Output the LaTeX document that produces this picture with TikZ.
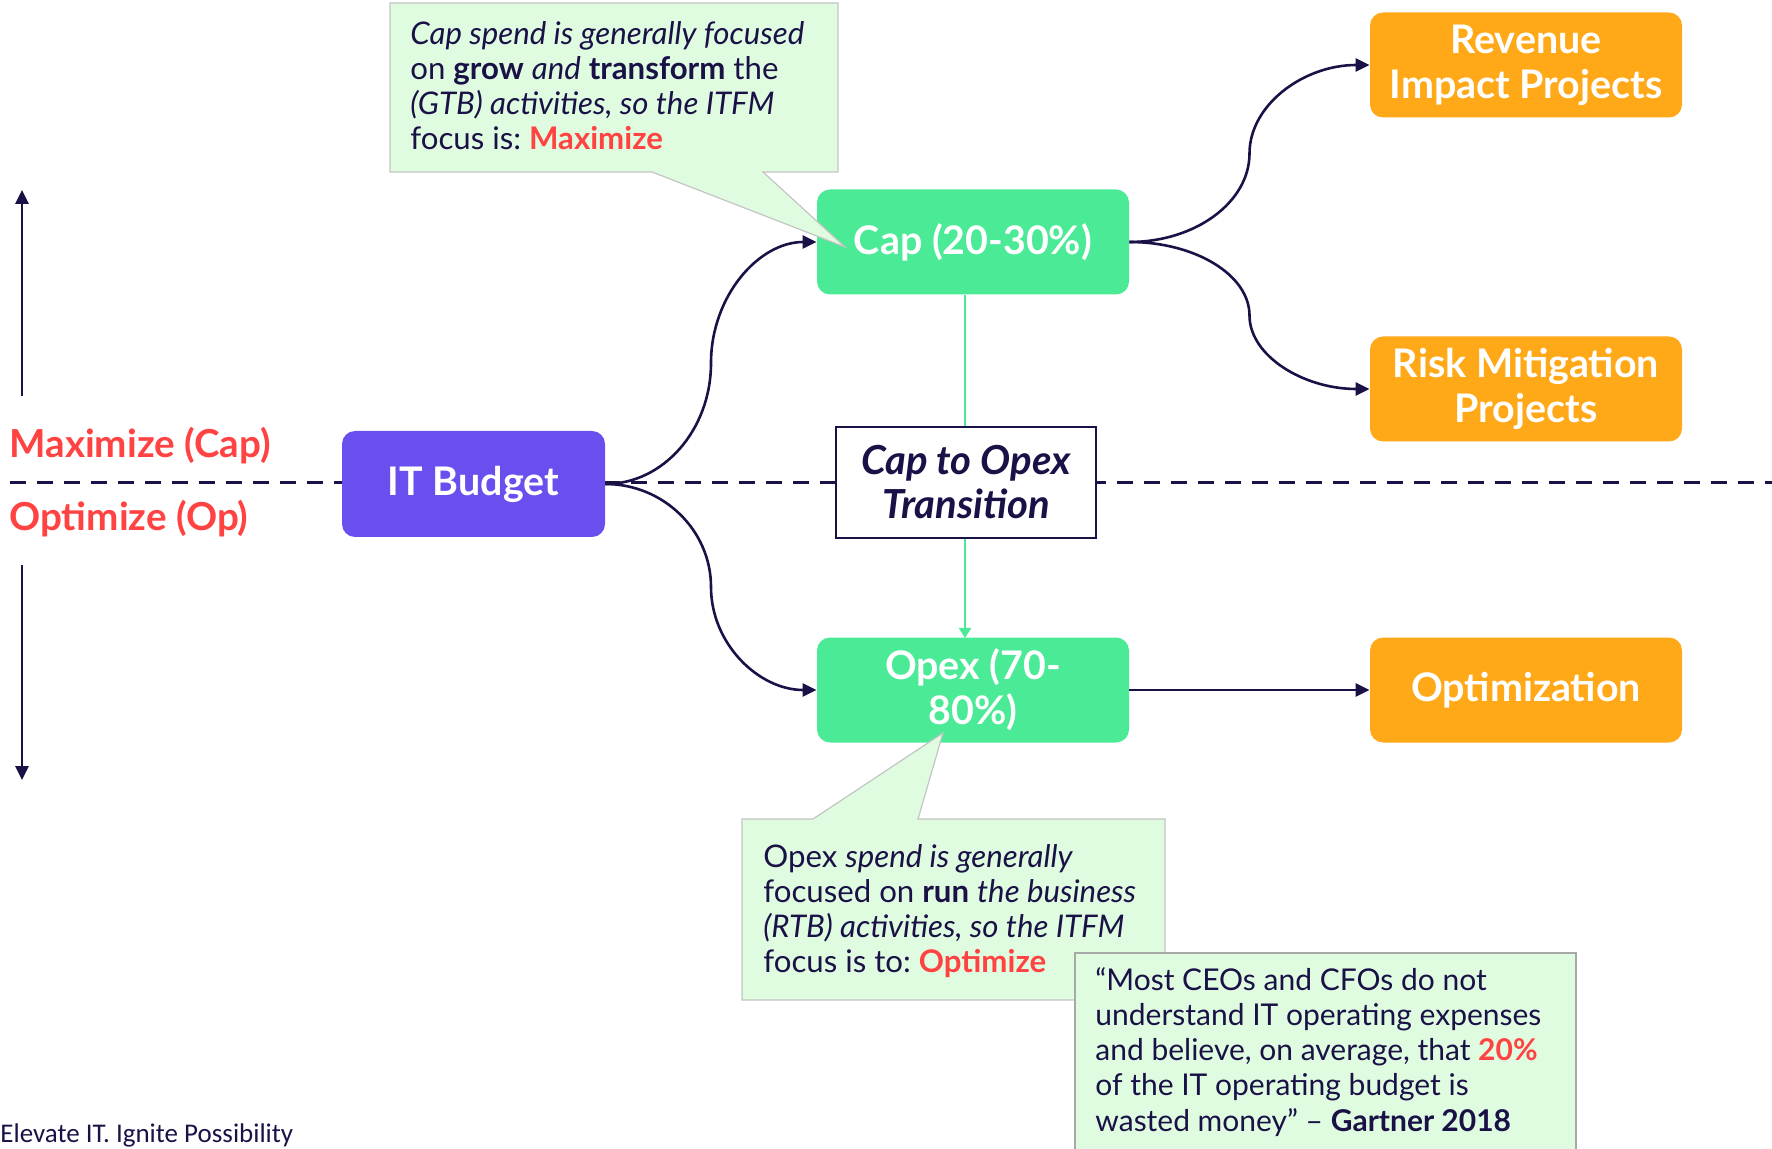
\documentclass[tikz,border=0pt]{standalone}
\usepackage{fontspec}
\setmainfont{Lato}
\newfontfamily\footfont{Carlito}
\usetikzlibrary{arrows.meta,calc}
\definecolor{navy}{HTML}{1A1147}
\definecolor{capgreen}{HTML}{4AEA96}
\definecolor{projorange}{HTML}{FFA818}
\definecolor{budgetpurple}{HTML}{6B4FEE}
\definecolor{accentred}{HTML}{FF4242}
\definecolor{notefill}{HTML}{E0FCE0}
\definecolor{noteline}{HTML}{C4C4C4}
\definecolor{quoteline}{HTML}{A8A8A8}
\frenchspacing
\begin{document}
\begin{tikzpicture}[x=0.5pt,y=-0.5pt,
  box/.style={rounded corners=6.5pt, minimum width=156pt, minimum height=52.5pt,
    inner sep=0pt, align=center, text=white,
    font=\fontsize{19.7}{22.5}\selectfont\bfseries},
  greenbox/.style={box, fill=capgreen},
  orangebox/.style={box, fill=projorange},
  purplebox/.style={box, fill=budgetpurple, minimum width=131.5pt, minimum height=53pt},
  transbox/.style={draw=navy, line width=0.8pt, fill=white, minimum width=130pt,
    minimum height=55.5pt, inner sep=0pt, align=center, text=navy,
    font=\fontsize{20}{22}\selectfont\bfseries\itshape},
  arr/.style={draw=navy, line width=1.3pt, -{Triangle[length=7pt,width=6.5pt]}},
  elbow/.style={to path={let \p1=(\tikztostart), \p2=(\tikztotarget) in
    .. controls ({\x1+0.275*(\x2-\x1)},\y1) and ({(\x1+\x2)/2},{(\y1+\y2)/2+0.275*(\y1-\y2)})
    .. ({(\x1+\x2)/2},{(\y1+\y2)/2})
    .. controls ({(\x1+\x2)/2},{(\y1+\y2)/2+0.275*(\y2-\y1)}) and ({\x2-0.275*(\x2-\x1)},\y2)
    .. (\tikztotarget) \tikztonodes}},
  dashline/.style={draw=navy, line width=1.5pt, dash pattern=on 8pt off 5.5pt},
  axisarrow/.style={draw=navy, line width=1.3pt, -{Triangle[length=7pt,width=6.5pt]}},
  sidelabel/.style={anchor=west, inner sep=0pt, text=accentred,
    font=\fontsize{19.3}{22}\selectfont\bfseries},
  notebox/.style={fill=notefill, draw=noteline, line width=0.6pt},
  quotebox/.style={fill=notefill, draw=quoteline, line width=0.9pt},
  notetext/.style={anchor=north west, inner sep=0pt, align=left, text=navy,
    font=\fontsize{15.6}{17.6}\selectfont},
  quotetext/.style={notetext, font=\fontsize{15}{17.6}\selectfont},
]
\useasboundingbox (0,0) rectangle (1772,1149);

% dashed divider
\coordinate (dl) at (10,483);
\coordinate (dr) at (1772,483);
\draw[dashline] (dl) -- (dr);

% vertical axis arrows
\coordinate (upA) at (22,396);
\coordinate (upB) at (22,190);
\coordinate (dnA) at (22,565);
\coordinate (dnB) at (22,780);
\draw[axisarrow] (upA) -- (upB);
\draw[axisarrow] (dnA) -- (dnB);

\node[sidelabel] (maxl) at (9,446) {Maximize (Cap)};
\node[sidelabel] (optl) at (9,519) {Optimize (Op)};

% nodes
\node[purplebox] (itb) at (473.5,484) {IT Budget};
\node[greenbox] (cap) at (973,242) {Cap (20-30\%)};
\node[greenbox] (opex) at (973,690) {Opex (70-\\80\%)};
\node[orangebox] (rev) at (1526,65) {Revenue\\Impact Projects};
\node[orangebox] (risk) at (1526,389) {Risk Mitigation\\Projects};
\node[orangebox] (optim) at (1526,690) {Optimization};

% green transition line
\coordinate (gtop) at (965,295);
\coordinate (gbot) at (965,638);
\draw[draw=capgreen, line width=1pt, -{Triangle[length=5pt,width=6pt]}] (gtop) -- (gbot);
\node[transbox] (trans) at (966,482.5) {Cap to Opex\\Transition};

% connectors
\draw[arr] (itb.east) to[elbow] (cap.west);
\draw[arr] (itb.east) to[elbow] (opex.west);
\draw[arr] (cap.east) to[elbow] (rev.west);
\draw[arr] (cap.east) to[elbow] (risk.west);
\draw[arr] (opex.east) -- (optim.west);

% callout 1
\path[notebox] (390,3) -- (838,3) -- (838,172) -- (763,172) -- (845,247) -- (652,172) -- (390,172) -- cycle;
\node[notetext] (note1) at (410,21) {\textit{Cap spend is generally focused}\\
on \textbf{grow} \textit{and} \textbf{transform} the\\
\textit{(GTB) activities, so the ITFM}\\
focus is: \textcolor{accentred}{\textbf{Maximize}}};

% callout 2
\path[notebox] (742,819) -- (813,819) -- (943,733) -- (918,819) -- (1165,819) -- (1165,1000) -- (742,1000) -- cycle;
\node[notetext] (note2) at (763,844) {Opex \textit{spend is generally}\\
focused on \textbf{run} \textit{the business}\\
\textit{(RTB) activities, so the ITFM}\\
focus is to: \textcolor{accentred}{\textbf{Optimize}}};

% quote box
\path[quotebox] (1075,953) -- (1576,953) -- (1576,1160) -- (1075,1160) -- cycle;
\node[quotetext] (quote) at (1095,967) {“Most CEOs and CFOs do not\\
understand IT operating expenses\\
and believe, on average, that \textcolor{accentred}{\textbf{20\%}}\\
of the IT operating budget is\\
wasted money” – \textbf{Gartner 2018}};

% footer
\node[anchor=west, inner sep=0pt, text=navy, font=\footfont\fontsize{13.5}{15}\selectfont] (footer) at (0,1135) {Elevate IT. Ignite Possibility};
\end{tikzpicture}
\end{document}
